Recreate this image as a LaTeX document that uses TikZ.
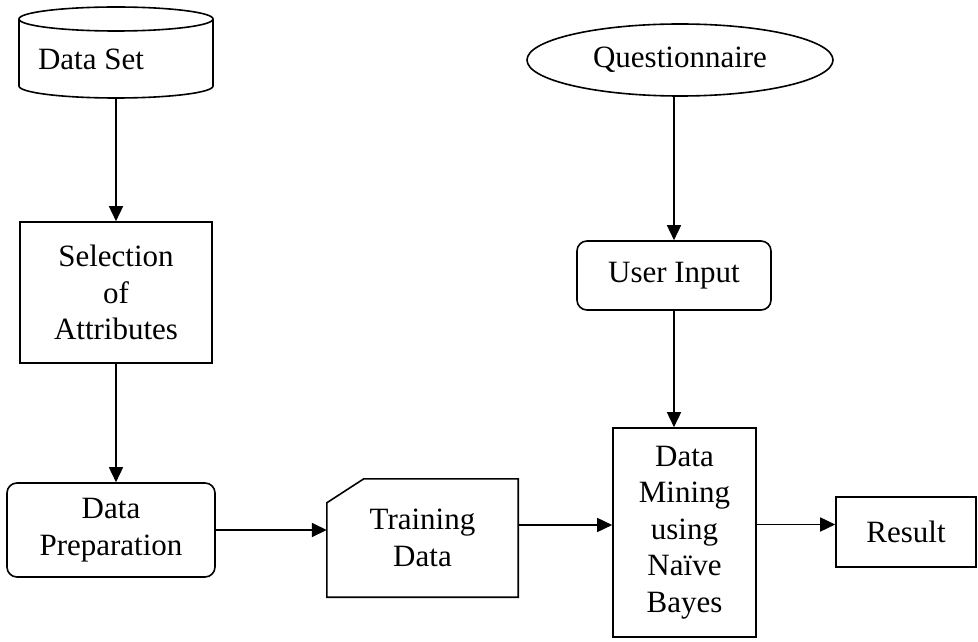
\documentclass[tikz,border=0pt]{standalone}
\usepackage{fontspec}
\setmainfont{Liberation Serif}
\usetikzlibrary{arrows.meta,shapes.geometric}

\begin{document}
\begin{tikzpicture}[x=1pt, y=1pt,
  every node/.style={font=\fontsize{31}{36.5}\selectfont, align=center, inner sep=0pt},
  box/.style={draw, line width=1.6pt, rectangle},
  rbox/.style={box, rounded corners=10pt},
  flow/.style={-{Triangle[length=15pt,width=14pt]}, line width=1.6pt}]
% Page frame
\useasboundingbox (0,0) rectangle (978,641);
% Data set drum: empty node, outline drawn by hand
\node[minimum width=194pt, minimum height=91pt] (dataset) at (116,588.5) {};
\draw[line width=1.6pt] (19,622) -- (19,555)
  arc[start angle=180, end angle=360, x radius=97, y radius=12] -- (213,622);
\draw[line width=1.6pt] (116,622) ellipse[x radius=97, y radius=12];
\node (dslabel) at (91,582) {Data Set};
% Left column
\node[box, minimum width=192pt, minimum height=141pt] (select) at (116,348.5) {Selection\\of\\Attributes};
\node[rbox, minimum width=208pt, minimum height=94pt] (prep) at (111,111) {Data\\Preparation};
% Training data card (cut top-left corner)
\node[minimum width=191pt, minimum height=118pt] (train) at (422.5,103) {Training\\Data};
\draw[line width=1.6pt] (train.south west) -- ([yshift=-24pt]train.north west)
  -- ([xshift=37pt]train.north west) -- (train.north east) -- (train.south east) -- cycle;
% Right column
\node[draw, ellipse, line width=1.6pt, minimum width=306pt, minimum height=72pt] (quest) at (680,581) {Questionnaire};
\node[rbox, minimum width=194pt, minimum height=69pt] (user) at (674,365.5) {User Input};
\node[box, minimum width=143pt, minimum height=209pt] (mine) at (684.5,108.5) {Data\\Mining\\using\\Naïve\\Bayes};
\node[box, minimum width=140pt, minimum height=70pt] (result) at (906,109) {Result};
% Flow arrows
\draw[flow] (dataset.south) -- (select.north);
\draw[flow] (select.south) -- (select.south |- prep.north);
\draw[flow] (prep.east) -- (prep.east -| train.west);
\draw[flow] ([yshift=13pt]train.east) -- ([yshift=13pt]train.east -| mine.west);
\draw[flow] ([yshift=8pt]mine.east) -- ([yshift=8pt]mine.east -| result.west);
\draw[flow] (quest.south -| user.north) -- (user.north);
\draw[flow] (user.south) -- (user.south |- mine.north);
\end{tikzpicture}
\end{document}
